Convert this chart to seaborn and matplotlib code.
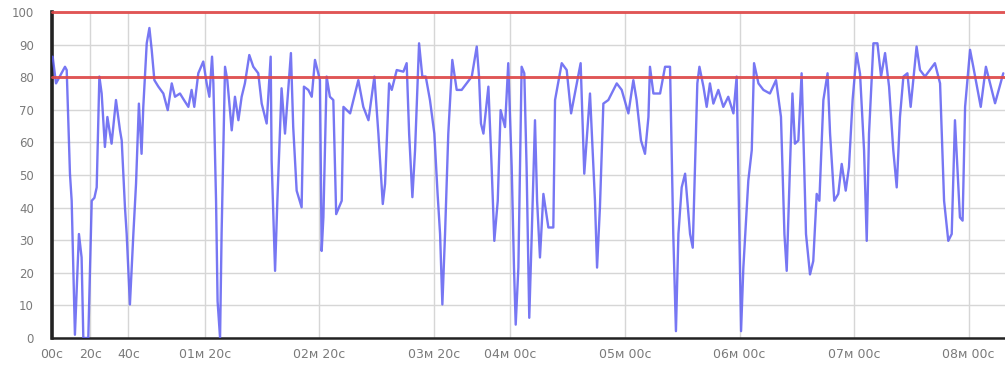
import matplotlib
matplotlib.use("Agg")
import matplotlib.pyplot as plt
from matplotlib.ticker import MultipleLocator, FixedLocator
import seaborn as sns
import pandas as pd

# CPU load samples: elapsed seconds and load in percent
seconds = [
    0.35, 2.1, 6.8, 7.7, 9.4, 10.3, 12.0, 14.1, 15.5, 16.4, 19.0, 20.8, 22.2, 23.4,
    24.8, 26.0, 27.7, 29.0, 31.2, 33.5, 35.6, 36.5, 38.2, 39.1, 40.8, 42.6, 44.0,
    45.5, 46.9, 47.8, 49.6, 51.0, 52.2, 53.6, 55.7, 58.3, 60.6, 62.7, 64.4, 67.0,
    69.1, 71.4, 73.1, 74.5, 76.6, 79.2, 81.0, 82.4, 83.8, 84.5, 85.9, 86.7, 88.0,
    88.8, 90.6, 91.8, 94.1, 95.8, 97.6, 99.3, 101.0, 103.3, 105.4, 108.0, 109.8,
    112.4, 114.5, 115.0, 116.8, 118.0, 120.2, 122.0, 125.1, 126.3, 128.1, 130.7,
    131.9, 134.2, 136.0, 137.7, 140.3, 141.2, 142.1, 143.8, 145.5, 147.3,
    148.8, 151.7, 152.6, 156.1, 160.4, 163.0, 165.7, 168.8, 170.9, 173.2, 174.4,
    176.5, 177.9, 180.5, 184.0, 185.7, 187.0, 188.7, 190.1, 192.2, 193.9, 195.7,
    197.9, 200.2, 201.9, 203.2, 204.4, 205.8, 207.5, 209.6, 211.9, 214.5, 217.1,
    219.8, 222.4, 223.6, 224.6, 225.9, 228.5, 230.2, 231.6, 233.4, 234.9, 237.2,
    238.9, 240.7, 241.9, 242.8, 244.2, 245.9, 247.3, 248.5, 249.9, 251.2, 252.9,
    254.0, 255.5, 257.3, 259.9, 262.5, 263.4, 266.9, 269.5, 271.8, 276.8, 278.7,
    281.7, 284.3, 285.4, 286.9, 288.7, 291.3, 295.7, 298.3, 301.8, 304.4, 306.1,
    308.4, 310.5, 312.3, 313.1, 314.9, 318.4, 321.0, 323.6,
    325.3, 326.7, 328.0, 329.7, 331.5, 334.1, 335.5, 336.7, 337.9, 339.0, 341.1,
    342.8, 344.5, 346.3, 348.9, 351.5, 354.1, 356.8, 358.5, 359.9, 360.8, 362.0,
    364.6, 366.4, 367.6, 369.9, 372.5, 375.9, 379.1, 381.7, 383.5, 384.7, 386.4,
    387.7, 389.0, 390.8, 392.5, 393.4, 394.8, 396.9, 398.6, 400.4, 401.8, 403.9,
    406.1, 407.4, 409.6, 411.7, 413.5, 415.6, 417.3, 419.2, 421.3, 423.1, 425.2,
    426.6, 427.8, 430.1, 432.2, 434.1, 436.2, 438.3, 440.5, 442.3, 444.0, 445.8,
    447.9, 449.6, 452.7, 454.5, 457.1, 462.3, 465.0, 467.1, 469.3, 471.1, 472.8,
    475.4, 476.8, 478.1, 480.7, 482.4, 486.3, 489.0, 493.8, 498.1,
]
load = [
    86.3, 78.1, 83.2, 82.2, 50.4, 42.1, 1.0, 31.9, 24.7, 0.0, 0.0, 42.1, 43.0, 46.2,
    80.2, 75.0, 58.6, 67.8, 59.6, 73.0, 63.7, 60.6, 40.1, 31.9, 10.3, 31.9, 47.3,
    71.9, 56.5, 70.9, 90.4, 95.1, 88.4, 79.1, 77.1, 75.0, 69.9, 78.1, 74.0, 75.0,
    73.0, 70.9, 76.1, 70.9, 81.2, 84.8, 78.1, 74.0, 86.3, 78.1, 42.1, 11.3, 0.0,
    31.9, 83.2, 79.1, 63.7, 74.0, 66.8, 74.0, 78.1, 86.8, 83.2, 81.2, 71.9,
    65.8, 86.3, 54.5, 20.6, 42.1, 76.6, 62.7, 87.4, 64.7, 45.2, 40.1,
    77.1, 76.1, 74.0, 85.3, 79.1, 26.7, 37.0, 80.2, 74.0, 73.0,
    38.0, 42.1, 70.9, 68.9, 79.1, 70.9, 66.8, 80.2, 62.7, 41.1, 47.3,
    78.1, 76.1, 82.2, 81.7, 84.3, 62.7, 43.2, 57.6, 90.4, 80.2, 80.2,
    73.0, 62.7, 44.2, 31.9, 10.3, 31.9, 62.7, 85.3, 76.1, 76.1, 78.1,
    80.2, 89.4, 80.2, 65.8, 62.7, 77.1, 52.4, 29.8, 42.1, 69.9, 64.7,
    84.3, 52.4, 21.6, 4.1, 21.6, 83.2, 81.2, 52.4, 6.2, 31.9, 66.8,
    42.1, 24.7, 44.2, 33.9, 33.9, 73.0, 84.3, 82.2, 68.9, 84.3, 50.4,
    75.0, 42.1, 21.6, 40.1, 71.9, 73.0, 78.1, 76.1, 68.9, 79.1, 73.0,
    60.6, 56.5, 67.8, 83.2, 75.0, 75.0, 83.2, 83.2,
    31.9, 2.1, 31.9, 46.2, 50.4, 31.9, 27.7, 52.4, 78.1, 83.2, 77.1,
    70.9, 78.1, 71.9, 76.1, 70.9, 74.0, 68.9, 80.2, 31.9, 2.1, 21.6,
    48.3, 57.6, 84.3, 78.1, 76.1, 75.0, 79.1, 67.8, 31.9, 20.6, 52.4,
    75.0, 59.6, 60.6, 81.2, 62.7, 31.9, 19.5, 23.6, 44.2, 42.1, 73.0,
    81.2, 62.7, 42.1, 44.2, 53.4, 45.2, 52.4, 73.0, 87.4, 81.0, 57.6,
    29.8, 62.7, 90.4, 90.4, 80.2, 87.4, 77.1, 57.6, 46.2, 67.8, 80.2,
    81.2, 70.9, 89.4, 82.2, 80.2, 84.3, 78.1, 42.1, 29.8, 31.9, 66.8,
    37.0, 36.0, 70.9, 88.4, 83.2, 70.9, 83.2, 72.0, 81.2,
]

# Labelled time ticks (seconds) and their captions
tick_seconds = [0, 20, 40, 80, 140, 200, 240, 300, 360, 420, 480]
tick_labels = ["00с", "20с", "40с", "01м 20с", "02м 20с", "03м 20с",
               "04м 00с", "05м 00с", "06м 00с", "07м 00с", "08м 00с"]

# Reference levels
threshold_levels = [80, 100]

df = pd.DataFrame({"t": seconds, "load": load})

sns.set_style("white")
fig = plt.figure(figsize=(10.05, 3.67), dpi=100)
ax = fig.add_axes([52 / 1005, 29 / 367, 953 / 1005, 326 / 367])

sns.lineplot(data=df, x="t", y="load", ax=ax, color="#5f5ff2", linewidth=1.7,
             alpha=0.85, zorder=3)

for lvl in threshold_levels:
    ax.axhline(lvl, color="#e04848", linewidth=2.1, alpha=0.9, zorder=4,
               clip_on=False)

ax.set_xlim(0, 499)
ax.set_ylim(0, 100)

ax.xaxis.set_major_locator(FixedLocator(tick_seconds))
ax.set_xticklabels(tick_labels)
ax.xaxis.set_minor_locator(MultipleLocator(10))
ax.yaxis.set_major_locator(MultipleLocator(10))
ax.yaxis.set_minor_locator(MultipleLocator(2))

ax.grid(True, which="major", color="#d6d6d6", linewidth=1.0, zorder=0)
ax.set_axisbelow(True)

for side in ("top", "right"):
    ax.spines[side].set_visible(False)
ax.spines["left"].set_color("#222222")
ax.spines["left"].set_linewidth(2.6)
ax.spines["bottom"].set_color("#222222")
ax.spines["bottom"].set_linewidth(1.8)

ax.tick_params(axis="both", which="major", length=4, width=0.8, color="#999999",
               labelcolor="#7a7a7a", direction="out", pad=4)
ax.tick_params(axis="both", which="minor", length=2, width=0.6, color="#aaaaaa",
               direction="out")
ax.tick_params(axis="x", which="major", labelsize=9, pad=3)
ax.tick_params(axis="y", which="major", labelsize=8.5, pad=9)

ax.set_xlabel("")
ax.set_ylabel("")

fig.savefig("out.png", dpi=100, facecolor="white")
